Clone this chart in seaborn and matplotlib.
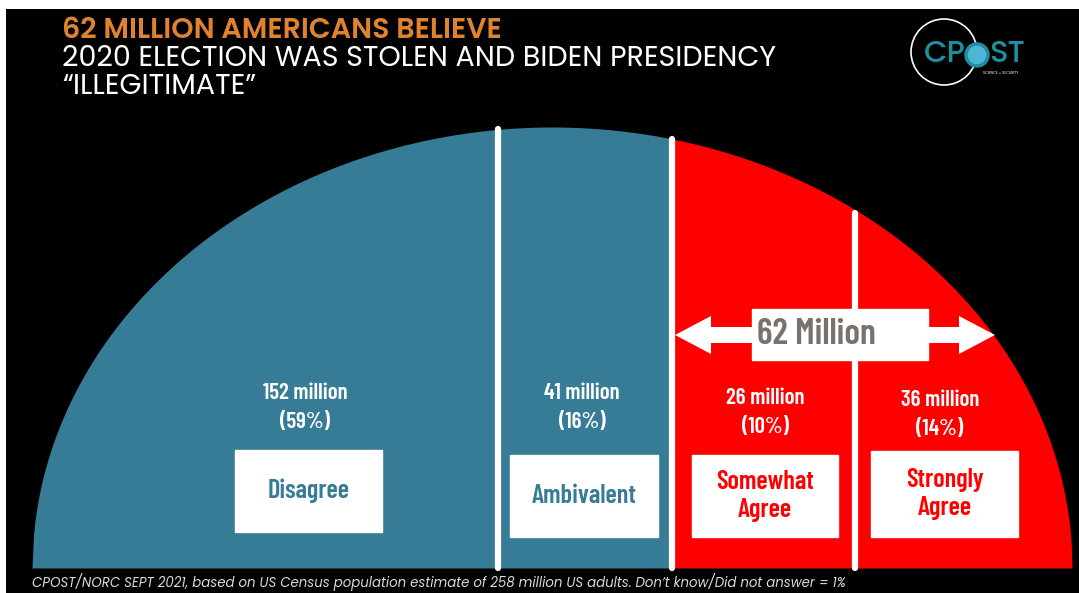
import numpy as np
import pandas as pd
import seaborn as sns
import matplotlib.pyplot as plt
from matplotlib.patches import Rectangle, Circle, FancyArrow


categories = ['Disagree', 'Ambivalent', 'Somewhat\nAgree', 'Strongly\nAgree']
millions = [152, 41, 26, 36]
percents = [59, 16, 10, 14]
agree_total = 62
adults_total = 258
no_answer = 1

BLUE = '#377c96'
RED = '#ff0000'
ORANGE = '#e0822e'
GREY_TXT = '#77726e'
LOGO = '#1f8ea0'

W, H = 1079, 593
# half ellipse, in pixel space of the figure
CX, CY, RX, RY = 552, 568, 520, 441
# cuts between the segments (hand placed in the original, not to scale)
EDGES = [CX - RX, 498, 672, 855, CX + RX]
SEG_COLORS = [BLUE, BLUE, RED, RED]
TEXT_COLORS = [BLUE, BLUE, RED, RED]

# label layout
VAL_X = [305, 582, 765, 940]
VAL_Y = [393, 393, 398, 400]
PCT_DY = 29
BOXES = [(235, 450, 147, 82), (510, 455, 148, 82), (692, 455, 146, 82), (871, 451, 147, 86)]

LABEL_FONT = ['Barlow Condensed', 'DejaVu Sans']
TITLE_FONT = ['Poppins', 'Lato', 'DejaVu Sans']


def arc_top(xs):
    return CY - RY * np.sqrt(np.clip(1 - ((xs - CX) / RX) ** 2, 0, 1))


sns.set_theme(style='white')
plt.rcParams['font.family'] = TITLE_FONT

fig = plt.figure(figsize=(W / 100, H / 100), dpi=100, facecolor='white')
ax = fig.add_axes([6 / W, 0, 1 - 6 / W, 1 - 9 / H])
ax.set_facecolor('black')
ax.add_patch(Rectangle((6, 9), W, H, color='black', zorder=0))

# segments of the half ellipse
for i in range(len(categories)):
    xs = np.linspace(EDGES[i], EDGES[i + 1], 300)
    ax.fill_between(xs, arc_top(xs), CY, color=SEG_COLORS[i], lw=0, zorder=1)

# white cut lines
cuts = pd.DataFrame({
    'x': np.repeat(EDGES[1:4], 2),
    'y': np.ravel([[arc_top(np.array([e]))[0] + (3 if k == 2 else 0), CY] for k, e in enumerate(EDGES[1:4])]),
    'cut': np.repeat([0, 1, 2], 2),
})
sns.lineplot(data=cuts, x='x', y='y', units='cut', estimator=None, color='white',
             lw=4.5, ax=ax, zorder=2, legend=False)
ax.set_xlim(6, W)
ax.set_ylim(H, 9)
ax.axis('off')

# value labels and category boxes
for i, cat in enumerate(categories):
    ax.text(VAL_X[i], VAL_Y[i], f'{millions[i]} million', color='white', ha='center', va='center',
            fontsize=16.5, fontweight='semibold', family=LABEL_FONT, zorder=3)
    ax.text(VAL_X[i], VAL_Y[i] + PCT_DY, f'({percents[i]}%)', color='white', ha='center', va='center',
            fontsize=16.5, fontweight='semibold', family=LABEL_FONT, zorder=3)
    bx, by, bw, bh = BOXES[i]
    ax.add_patch(Rectangle((bx, by), bw, bh, color='white', zorder=3))
    ax.text(bx + bw / 2, by + bh / 2, cat, color=TEXT_COLORS[i], ha='center', va='center',
            fontsize=19, fontweight='semibold', family=LABEL_FONT, linespacing=1.2, zorder=4)

# 62 million double arrow
for dx in (160, -160):
    ax.add_patch(FancyArrow(835, 335, dx, 0, width=16, head_width=38, head_length=36,
                            length_includes_head=True, color='white', lw=0, zorder=3))
ax.add_patch(Rectangle((752, 309), 176, 51, color='white', zorder=4))
ax.text(816, 335, f'{agree_total} Million', color=GREY_TXT, ha='center', va='center',
        fontsize=26, fontweight='semibold', family=LABEL_FONT, zorder=5)

# titles
ax.text(62, 38, f'{agree_total} MILLION AMERICANS BELIEVE', color=ORANGE, ha='left', va='baseline',
        fontsize=20.5, fontweight='semibold')
ax.text(62, 66, '2020 ELECTION WAS STOLEN AND BIDEN PRESIDENCY', color='white', ha='left',
        va='baseline', fontsize=20.5, fontweight='normal')
ax.text(62, 94, '\u201cILLEGITIMATE\u201d', color='white', ha='left', va='baseline',
        fontsize=20.5, fontweight='normal')

# footer
ax.text(32, 587, f'CPOST/NORC SEPT 2021, based on US Census population estimate of {adults_total} million '
        f'US adults. Don\u2019t know/Did not answer = {no_answer}%', color='#d9d9d9', ha='left',
        va='baseline', fontsize=9.6, style='italic', fontweight='normal')

# logo
ax.add_patch(Circle((944, 52), 33, fill=False, ec='white', lw=1.2, zorder=3))
ax.text(966, 55, 'CP', color=LOGO, ha='right', va='center', fontsize=22, fontweight='medium', zorder=4)
ax.text(989, 55, 'ST', color=LOGO, ha='left', va='center', fontsize=22, fontweight='medium', zorder=4)
ax.add_patch(Circle((977, 55), 11, fc='#4fb6d6', ec=LOGO, lw=2.5, zorder=4))
ax.text(1001, 73, 'SCIENCE + SECURITY', color='white', ha='center', va='center', fontsize=2.6, zorder=4)

fig.savefig('out.png', dpi=100, facecolor=fig.get_facecolor())
